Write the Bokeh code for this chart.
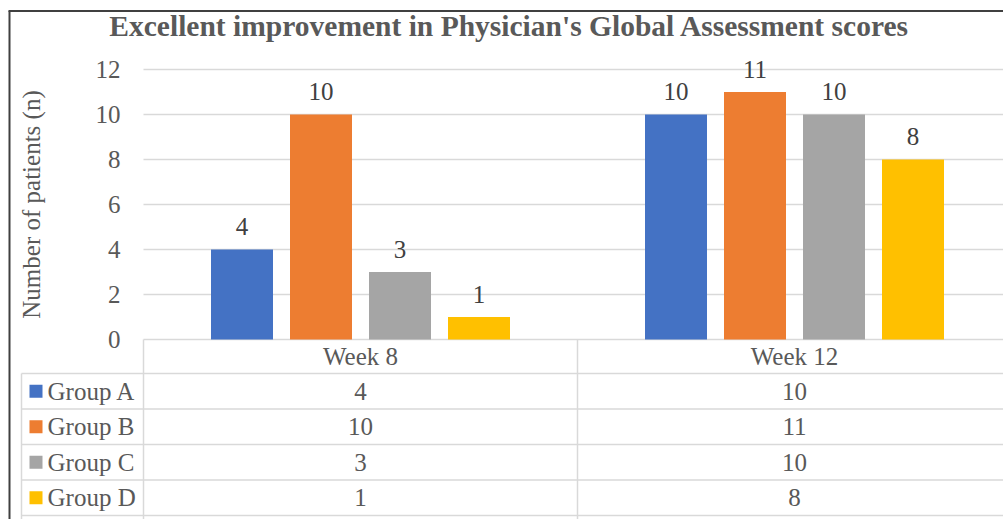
from bokeh.plotting import figure
from bokeh.models import Range1d, LinearAxis, FixedTicker
from bokeh.core.properties import value
from bokeh.embed import file_html
from bokeh.resources import INLINE

# ---------------- data ----------------
categories = ["Week 8", "Week 12"]
groups = ["Group A", "Group B", "Group C", "Group D"]
group_a = [4, 10]
group_b = [10, 11]
group_c = [3, 10]
group_d = [1, 8]
series = [group_a, group_b, group_c, group_d]
y_ticks = [0, 2, 4, 6, 8, 10, 12]
title_text = "Excellent improvement in Physician's Global Assessment scores"
y_label = "Number of patients (n)"

# ---------------- styles / layout ----------------
colors = ["#4472C4", "#ED7D31", "#A5A5A5", "#FFC000"]
FONT = value("Liberation Serif")
FS = "25px"
W, H = 1003, 519
CAT_PX = 434.0      # pixels per category
UNIT_PX = 22.5      # pixels per y unit
X0 = 143.0          # px of category 0 left edge
Y0 = 339.0          # px of value 0


def xd(px):
    return (px - X0) / CAT_PX


def yd(py):
    return (Y0 - py) / UNIT_PX


x_range = Range1d(xd(0), xd(W))
y_range = Range1d(yd(H), yd(0))

p = figure(width=W, height=H, x_range=x_range, y_range=y_range,
           output_backend="svg", toolbar_location=None,
           x_axis_location=None, y_axis_location=None,
           min_border_left=0, min_border_right=0,
           min_border_top=0, min_border_bottom=0)
p.outline_line_color = None
p.background_fill_color = "white"
p.border_fill_color = "white"
p.xgrid.visible = False
p.ygrid.visible = False

# gridlines (from tick values)
p.segment(x0=[0] * len(y_ticks), y0=y_ticks,
          x1=[x_range.end] * len(y_ticks), y1=y_ticks,
          line_color="#D9D9D9", line_width=1.5)

# bars
bar_step = 79 / CAT_PX
bar_w = 62 / CAT_PX
for i, (vals, c) in enumerate(zip(series, colors)):
    xs = [k + 0.5 + (i - 1.5) * bar_step for k in range(len(categories))]
    p.vbar(x=xs, top=vals, width=bar_w, fill_color=c, line_color=None)
    p.text(x=xs, y=vals, text=[str(v) for v in vals], y_offset=-23,
           text_align="center", text_baseline="middle",
           text_font=FONT, text_font_size=FS, text_color="#404040")

# y axis
yaxis = LinearAxis(fixed_location=0, ticker=FixedTicker(ticks=y_ticks),
                   axis_label=y_label, bounds=(0, 12))
yaxis.axis_line_color = None
yaxis.major_tick_line_color = None
yaxis.minor_tick_line_color = None
yaxis.major_tick_out = 0
yaxis.major_tick_in = 0
yaxis.major_label_standoff = 23
yaxis.major_label_text_font = "Liberation Serif"
yaxis.major_label_text_font_size = FS
yaxis.major_label_text_color = "#595959"
yaxis.axis_label_text_font = "Liberation Serif"
yaxis.axis_label_text_font_size = FS
yaxis.axis_label_text_font_style = "normal"
yaxis.axis_label_text_color = "#595959"
yaxis.axis_label_standoff = 48
p.add_layout(yaxis, "left")

# ---------------- data table ----------------
line_c = "#D9D9D9"
header_h = 34 / UNIT_PX
row_h = 35.5 / UNIT_PX
bottom = y_range.start
xr = x_range.end
left_col = xd(21)

# category column separators
n_cat = len(categories)
p.segment(x0=list(range(n_cat + 1)), y0=[0] * (n_cat + 1),
          x1=list(range(n_cat + 1)), y1=[bottom] * (n_cat + 1),
          line_color=line_c, line_width=1.5)
# legend column left edge
p.segment(x0=[left_col], y0=[-header_h], x1=[left_col], y1=[bottom],
          line_color=line_c, line_width=1.5)
# row lines
row_tops = [-(header_h + k * row_h) for k in range(len(groups) + 1)]
p.segment(x0=[left_col] * len(row_tops), y0=row_tops,
          x1=[xr] * len(row_tops), y1=row_tops,
          line_color=line_c, line_width=1.5)

# header
p.text(x=[k + 0.5 for k in range(n_cat)], y=[-header_h / 2 + 0.02] * n_cat,
       text=categories, text_align="center", text_baseline="middle",
       text_font=FONT, text_font_size=FS, text_color="#595959")

# rows
for k, (g, vals, c) in enumerate(zip(groups, series, colors)):
    yc = row_tops[k] - row_h / 2
    p.scatter(x=[xd(35.5)], y=[yc], marker="square", size=13,
              fill_color=c, line_color=None)
    p.text(x=[xd(47)], y=[yc], text=[g], text_align="left",
           text_baseline="middle", text_font=FONT, text_font_size=FS,
           text_color="#595959")
    p.text(x=[j + 0.5 for j in range(n_cat)], y=[yc] * n_cat,
           text=[str(v) for v in vals], text_align="center",
           text_baseline="middle", text_font=FONT, text_font_size=FS,
           text_color="#595959")

# title
p.text(x=[xd(509)], y=[yd(25.5)], text=[title_text], text_align="center",
       text_baseline="middle", text_font=FONT, text_font_size="29.5px",
       text_font_style="bold", text_color="#595959")

# outer chart border (left and top)
p.segment(x0=[xd(9)], y0=[yd(10.5)], x1=[xd(9)], y1=[bottom],
          line_color="#404040", line_width=2)
p.segment(x0=[xd(8)], y0=[yd(10.5)], x1=[xr], y1=[yd(10.5)],
          line_color="#404040", line_width=2)

open("out.html", "w").write(file_html(p, INLINE))
